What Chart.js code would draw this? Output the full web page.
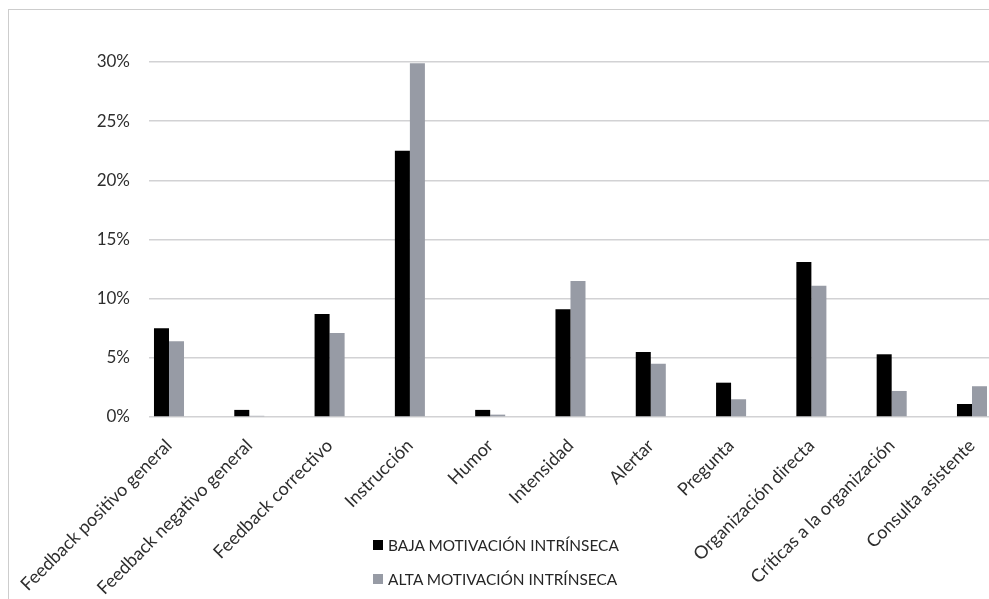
<!DOCTYPE html>
<html>
<head>
<meta charset="utf-8">
<script src="https://cdn.jsdelivr.net/npm/chart.js@4.4.1/dist/chart.umd.min.js"></script>
<style>
  html, body { margin: 0; padding: 0; background: #fff; overflow: hidden; }
  #wrap { position: relative; width: 989px; height: 599px; overflow: hidden; }
  #frame { position: absolute; left: 8px; top: 9px; width: 1200px; height: 800px;
           border-left: 1px solid #cdcdcd; border-top: 1px solid #cdcdcd; }
  #chart { position: absolute; left: 0; top: 0; }
  #legend { position: absolute; left: 373px; top: 528px; font-family: Lato, sans-serif;
            font-size: 15.4px; color: #262626; }
  #legend .row { display: flex; align-items: center; height: 34px; white-space: nowrap; }
  #legend .sw { width: 10px; height: 10px; margin-right: 5px; }
</style>
</head>
<body>
<div id="wrap">
  <div id="frame"></div>
  <canvas id="chart" width="989" height="599"></canvas>
  <div id="legend"></div>
</div>
<script>
// Categories of coach behaviour
const categories = [
  'Feedback positivo general',
  'Feedback negativo general',
  'Feedback correctivo',
  'Instrucción',
  'Humor',
  'Intensidad',
  'Alertar',
  'Pregunta',
  'Organización directa',
  'Críticas a la organización',
  'Consulta asistente'
];

// Share of behaviours (%) per group
const bajaMotivacion = [7.5, 0.6, 8.7, 22.5, 0.6, 9.1, 5.5, 2.9, 13.1, 5.3, 1.1];
const altaMotivacion = [6.4, 0.1, 7.1, 29.9, 0.2, 11.5, 4.5, 1.5, 11.1, 2.2, 2.6];

const seriesNames = ['BAJA MOTIVACIÓN INTRÍNSECA', 'ALTA MOTIVACIÓN INTRÍNSECA'];
const seriesColors = ['#000000', '#979ba5'];

// Y axis ticks (%)
const yTicks = [0, 5, 10, 15, 20, 25, 30];

const FONT = 'Lato, "Open Sans", sans-serif';
const TEXT = '#2e2e2e';

const toPoints = arr => arr.map((v, i) => ({ x: i, y: v }));

const chart = new Chart(document.getElementById('chart'), {
  type: 'bar',
  data: {
    datasets: [
      { label: seriesNames[0], data: toPoints(bajaMotivacion), backgroundColor: seriesColors[0],
        barPercentage: 1, categoryPercentage: 0.374 },
      { label: seriesNames[1], data: toPoints(altaMotivacion), backgroundColor: seriesColors[1],
        barPercentage: 1, categoryPercentage: 0.374 }
    ]
  },
  options: {
    responsive: false,
    animation: false,
    layout: { padding: { top: 62, left: 0, right: 0, bottom: 0 } },
    plugins: { legend: { display: false }, tooltip: { enabled: false } },
    scales: {
      x: {
        type: 'linear',
        bounds: 'data',
        offset: false,
        min: -0.249,
        max: 10.212,
        grid: { display: false, drawTicks: false, offset: false },
        border: { display: false },
        afterFit: s => {
          // fixed band for the slanted labels; the plot keeps the full width
          s.height = 182;
          s.paddingLeft = 0;
          s.paddingRight = 0;
        },
        afterBuildTicks: s => { s.ticks = categories.map((_, i) => ({ value: i })); },
        ticks: {
          autoSkip: false,
          includeBounds: false,
          minRotation: 45,
          maxRotation: 45,
          padding: 18,
          color: TEXT,
          font: { family: FONT, size: 18 },
          callback: v => categories[v] ?? ''
        }
      },
      y: {
        min: 0,
        max: 30,
        afterFit: s => { s.width = 149; },
        afterBuildTicks: s => { s.ticks = yTicks.map(v => ({ value: v })); },
        grid: { color: '#d2d2d4', lineWidth: 1.5, drawTicks: false },
        border: { display: false },
        ticks: {
          padding: 19,
          color: TEXT,
          font: { family: FONT, size: 17 },
          callback: v => v + '%'
        }
      }
    }
  }
});

// Legend stacked below the plot
const legend = document.getElementById('legend');
chart.data.datasets.forEach(ds => {
  const row = document.createElement('div');
  row.className = 'row';
  const sw = document.createElement('span');
  sw.className = 'sw';
  sw.style.background = ds.backgroundColor;
  const txt = document.createElement('span');
  txt.textContent = ds.label;
  row.appendChild(sw);
  row.appendChild(txt);
  legend.appendChild(row);
});
</script>
</body>
</html>
